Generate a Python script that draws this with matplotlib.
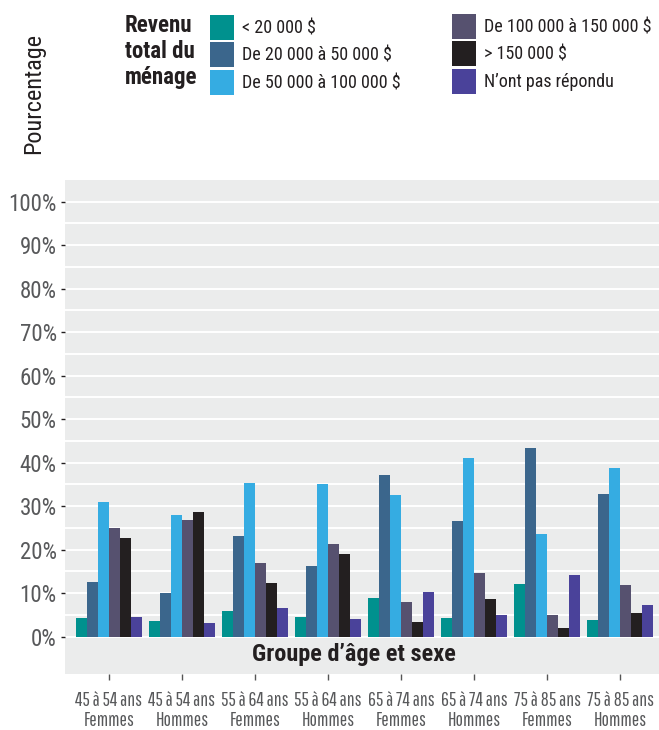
import matplotlib.pyplot as plt
import numpy as np

# categories / series
groups = ['45 à 54 ans\nFemmes', '45 à 54 ans\nHommes', '55 à 64 ans\nFemmes', '55 à 64 ans\nHommes',
          '65 à 74 ans\nFemmes', '65 à 74 ans\nHommes', '75 à 85 ans\nFemmes', '75 à 85 ans\nHommes']
series_names = ['< 20 000 $', 'De 20 000 à 50 000 $', 'De 50 000 à 100 000 $',
                'De 100 000 à 150 000 $', '> 150 000 $', "N’ont pas répondu"]
lt20k = [4.3, 3.6, 5.9, 4.5, 8.9, 4.3, 12.1, 3.8]
r20_50k = [12.6, 10.0, 23.1, 16.2, 37.2, 26.6, 43.4, 32.8]
r50_100k = [31.0, 28.0, 35.3, 35.1, 32.6, 41.1, 23.6, 38.8]
r100_150k = [25.0, 26.8, 16.9, 21.3, 8.0, 14.6, 5.0, 11.9]
gt150k = [22.7, 28.7, 12.3, 19.0, 3.4, 8.7, 2.0, 5.4]
no_answer = [4.5, 3.1, 6.6, 4.1, 10.3, 5.0, 14.2, 7.3]
values = [lt20k, r20_50k, r50_100k, r100_150k, gt150k, no_answer]
colors = ['#00918E', '#3B668C', '#35ACE2', '#56516F', '#231F20', '#4A429A']
yticks = [0, 10, 20, 30, 40, 50, 60, 70, 80, 90, 100]

narrow = ['Roboto Condensed', 'DejaVu Sans']
xnarrow = ['Pathway Gothic One', 'Roboto Condensed', 'DejaVu Sans']
plt.rcParams['font.family'] = ['Liberation Sans', 'DejaVu Sans']

fig = plt.figure(figsize=(6.59, 7.30), dpi=100)
ax = fig.add_axes([65 / 659, 1 - 674 / 730, 594 / 659, 494 / 730])
ax.set_facecolor('#EBECEC')

x = np.arange(len(groups))
w = 0.1507
bars = []
for i, (vals, c) in enumerate(zip(values, colors)):
    b = ax.bar(x + (i - 2.5) * w, vals, width=w, color=c, zorder=3, label=series_names[i])
    bars.append(b)

# white gridlines every 5 %
for g in range(0, 101, 5):
    ax.axhline(g, color='white', lw=1.4, zorder=1)

ax.set_xlim(-0.6, 7.53)
ax.set_ylim(-8.57, 105)
ax.set_yticks(yticks)
ax.set_yticklabels([f'{v}%' for v in yticks], fontsize=16.5, color='#58595B', family=narrow)
ax.tick_params(axis='y', length=3, width=1, pad=3, color='#231F20')
ax.set_xticks(x)
ax.set_xticklabels(groups, fontsize=14, color='#58595B', family=xnarrow, linespacing=1.1)
ax.tick_params(axis='x', length=4, width=1, pad=8, color='#555555')
for s in ax.spines.values():
    s.set_visible(False)

ax.text(3.35, -4.2, 'Groupe d’âge et sexe', ha='center', va='center',
        fontsize=17.5, fontweight='bold', color='#231F20', family=narrow)

fig.text(34 / 659, 1 - 93 / 730, 'Pourcentage', rotation=90, ha='center', va='center',
         fontsize=17.5, color='#231F20', family=narrow)

fig.text(125 / 659, 1 - 14 / 730, 'Revenu\ntotal du\nménage', ha='left', va='top',
         fontsize=16.5, fontweight='bold', color='#231F20', family=narrow, linespacing=1.17)

# legend patch height = fontsize * (h - 0.35 * (h - 0.7)) -> ~25 px
leg_kw = dict(frameon=False, handlelength=1.33, handleheight=1.75,
              labelspacing=0.14, handletextpad=0.45, borderpad=0, borderaxespad=0,
              prop={'family': narrow, 'size': 13})
leg1 = fig.legend(bars[:3], series_names[:3], loc='upper left',
                  bbox_to_anchor=(210 / 659, 1 - 15 / 730), **leg_kw)
leg2 = fig.legend(bars[3:], series_names[3:], loc='upper left',
                  bbox_to_anchor=(452 / 659, 1 - 14 / 730), **leg_kw)
for leg in (leg1, leg2):
    for t in leg.get_texts():
        t.set_color('#231F20')

fig.savefig('out.png', dpi=100)
